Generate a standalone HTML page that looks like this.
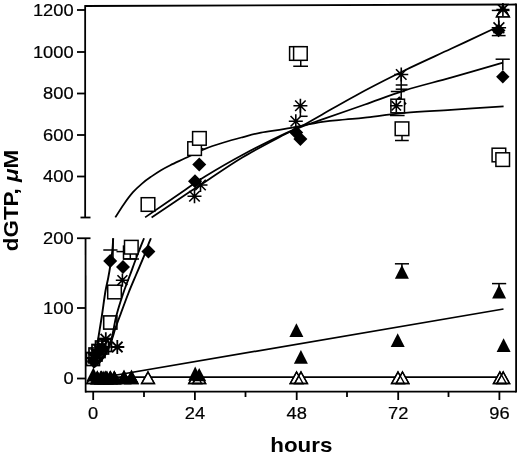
<!DOCTYPE html>
<html><head><meta charset="utf-8"><title>dGTP</title>
<style>
html,body{margin:0;padding:0;background:#fff;}
svg{display:block;}
.t{font-family:"Liberation Sans",Arial,Helvetica,sans-serif;font-size:16.8px;fill:#000;stroke:#000;stroke-width:0.2px;}
.b{font-family:"Liberation Sans",Arial,Helvetica,sans-serif;font-size:20px;font-weight:bold;fill:#000;}
</style></head>
<body>
<svg width="520" height="456" viewBox="0 0 520 456">
<rect width="520" height="456" fill="#fff"/>
<line x1="85.15" y1="5.10" x2="85.15" y2="217.50" stroke="#000" stroke-width="1.8"/>
<line x1="80.50" y1="217.50" x2="90.50" y2="217.50" stroke="#000" stroke-width="1.8"/>
<line x1="85.55" y1="238.25" x2="85.65" y2="392.50" stroke="#000" stroke-width="1.8"/>
<line x1="77.00" y1="238.25" x2="90.50" y2="238.25" stroke="#000" stroke-width="1.8"/>
<line x1="85.15" y1="6.00" x2="516.10" y2="4.50" stroke="#000" stroke-width="1.8"/>
<line x1="516.10" y1="3.60" x2="516.10" y2="392.50" stroke="#000" stroke-width="1.8"/>
<line x1="85.15" y1="391.60" x2="516.10" y2="391.60" stroke="#000" stroke-width="1.8"/>
<line x1="77.00" y1="10.00" x2="85.15" y2="10.00" stroke="#000" stroke-width="1.8"/>
<text transform="translate(73.6,15.90) scale(1.09,1)" text-anchor="end" class="t">1200</text>
<line x1="77.00" y1="52.00" x2="85.15" y2="52.00" stroke="#000" stroke-width="1.8"/>
<text transform="translate(73.6,57.90) scale(1.09,1)" text-anchor="end" class="t">1000</text>
<line x1="77.00" y1="93.50" x2="85.15" y2="93.50" stroke="#000" stroke-width="1.8"/>
<text transform="translate(73.6,99.40) scale(1.09,1)" text-anchor="end" class="t">800</text>
<line x1="77.00" y1="135.00" x2="85.15" y2="135.00" stroke="#000" stroke-width="1.8"/>
<text transform="translate(73.6,140.90) scale(1.09,1)" text-anchor="end" class="t">600</text>
<line x1="77.00" y1="176.50" x2="85.15" y2="176.50" stroke="#000" stroke-width="1.8"/>
<text transform="translate(73.6,182.40) scale(1.09,1)" text-anchor="end" class="t">400</text>
<text transform="translate(73.6,244.15) scale(1.09,1)" text-anchor="end" class="t">200</text>
<line x1="77.00" y1="308.00" x2="85.15" y2="308.00" stroke="#000" stroke-width="1.8"/>
<text transform="translate(73.6,313.90) scale(1.09,1)" text-anchor="end" class="t">100</text>
<line x1="77.00" y1="378.50" x2="85.15" y2="378.50" stroke="#000" stroke-width="1.8"/>
<text transform="translate(73.6,384.40) scale(1.09,1)" text-anchor="end" class="t">0</text>
<line x1="93.20" y1="391.60" x2="93.20" y2="400.00" stroke="#000" stroke-width="1.8"/>
<text transform="translate(93.20,418.8) scale(1.09,1)" text-anchor="middle" class="t">0</text>
<line x1="194.90" y1="391.60" x2="194.90" y2="400.00" stroke="#000" stroke-width="1.8"/>
<text transform="translate(194.90,418.8) scale(1.09,1)" text-anchor="middle" class="t">24</text>
<line x1="296.70" y1="391.60" x2="296.70" y2="400.00" stroke="#000" stroke-width="1.8"/>
<text transform="translate(296.70,418.8) scale(1.09,1)" text-anchor="middle" class="t">48</text>
<line x1="398.20" y1="391.60" x2="398.20" y2="400.00" stroke="#000" stroke-width="1.8"/>
<text transform="translate(398.20,418.8) scale(1.09,1)" text-anchor="middle" class="t">72</text>
<line x1="499.40" y1="391.60" x2="499.40" y2="400.00" stroke="#000" stroke-width="1.8"/>
<text transform="translate(499.40,418.8) scale(1.09,1)" text-anchor="middle" class="t">96</text>
<line x1="144.00" y1="391.60" x2="144.00" y2="397.00" stroke="#000" stroke-width="1.8"/>
<line x1="245.50" y1="391.60" x2="245.50" y2="397.00" stroke="#000" stroke-width="1.8"/>
<line x1="347.00" y1="391.60" x2="347.00" y2="397.00" stroke="#000" stroke-width="1.8"/>
<line x1="448.50" y1="391.60" x2="448.50" y2="397.00" stroke="#000" stroke-width="1.8"/>
<text transform="translate(301.3,451.7) scale(1.12,1)" text-anchor="middle" class="b">hours</text>
<text transform="translate(18.4,200.5) rotate(-90) scale(1.12,1)" text-anchor="middle" class="b">dGTP, <tspan font-style="italic">μ</tspan>M</text>
<path d="M115.30,217.40 C116.70,215.23 120.75,208.60 123.70,204.40 C126.65,200.20 129.90,195.72 133.00,192.20 C136.10,188.68 139.20,185.93 142.30,183.30 C145.40,180.67 148.48,178.58 151.60,176.40 C154.72,174.22 157.88,172.07 161.00,170.20 C164.12,168.33 166.30,167.18 170.30,165.20 C174.30,163.22 179.22,161.02 185.00,158.30 C190.78,155.58 198.55,151.53 205.00,148.90 C211.45,146.27 217.48,144.43 223.70,142.50 C229.92,140.57 236.08,138.95 242.30,137.30 C248.52,135.65 253.88,134.00 261.00,132.60 C268.12,131.20 274.78,130.68 285.00,128.90 C295.22,127.12 312.30,123.47 322.30,121.90 C332.30,120.33 337.88,120.22 345.00,119.50 C352.12,118.78 355.00,118.70 365.00,117.60 C375.00,116.50 390.67,114.18 405.00,112.90 C419.33,111.62 434.57,110.98 451.00,109.90 C467.43,108.82 494.83,106.98 503.60,106.40" stroke="#000" stroke-width="1.75" fill="none"/>
<path d="M145.10,217.40 C151.75,212.83 175.02,196.82 185.00,190.00 C194.98,183.18 195.45,182.33 205.00,176.50 C214.55,170.67 228.97,162.15 242.30,155.00 C255.63,147.85 274.77,138.43 285.00,133.60 C295.23,128.77 297.48,128.37 303.70,126.00 C309.92,123.63 312.08,122.98 322.30,119.40 C332.52,115.82 351.22,109.35 365.00,104.50 C378.78,99.65 390.67,94.78 405.00,90.30 C419.33,85.82 434.67,82.22 451.00,77.60 C467.33,72.98 494.33,65.10 503.00,62.60" stroke="#000" stroke-width="1.75" fill="none"/>
<path d="M151.60,217.40 C157.17,213.67 176.10,200.90 185.00,195.00 C193.90,189.10 195.45,188.25 205.00,182.00 C214.55,175.75 228.97,165.45 242.30,157.50 C255.63,149.55 274.77,139.72 285.00,134.30 C295.23,128.88 297.48,128.32 303.70,125.00 C309.92,121.68 312.08,120.15 322.30,114.40 C332.52,108.65 351.22,97.87 365.00,90.50 C378.78,83.13 390.67,77.15 405.00,70.20 C419.33,63.25 436.22,55.70 451.00,48.80 C465.78,41.90 485.70,32.52 493.70,28.80 C501.70,25.08 498.12,26.88 499.00,26.50" stroke="#000" stroke-width="1.75" fill="none"/>
<path d="M113.20,238.25 C113.07,240.21 112.85,245.66 112.40,250.00 C111.95,254.34 111.20,259.63 110.50,264.30 C109.80,268.97 109.07,273.38 108.20,278.00 C107.33,282.62 106.33,285.83 105.30,292.00 C104.27,298.17 103.08,307.83 102.00,315.00 C100.92,322.17 99.88,328.33 98.80,335.00 C97.72,341.67 96.43,349.83 95.50,355.00 C94.57,360.17 93.58,364.17 93.20,366.00" stroke="#000" stroke-width="1.9" fill="none"/>
<path d="M144.00,238.25 C142.83,241.21 139.33,249.88 137.00,256.00 C134.67,262.12 132.33,268.67 130.00,275.00 C127.67,281.33 125.28,287.17 123.00,294.00 C120.72,300.83 118.07,309.17 116.30,316.00 C114.53,322.83 113.78,329.33 112.40,335.00 C111.02,340.67 110.07,345.50 108.00,350.00 C105.93,354.50 102.47,359.00 100.00,362.00 C97.53,365.00 94.33,367.00 93.20,368.00" stroke="#000" stroke-width="1.9" fill="none"/>
<path d="M150.90,238.25 C150.45,239.34 149.35,241.81 148.20,244.80 C147.05,247.79 146.03,251.17 144.00,256.20 C141.97,261.23 138.58,268.87 136.00,275.00 C133.42,281.13 131.00,286.67 128.50,293.00 C126.00,299.33 123.18,307.12 121.00,313.00 C118.82,318.88 117.15,323.30 115.40,328.30 C113.65,333.30 112.73,338.05 110.50,343.00 C108.27,347.95 104.88,354.17 102.00,358.00 C99.12,361.83 94.67,364.67 93.20,366.00" stroke="#000" stroke-width="1.9" fill="none"/>
<line x1="93.25" y1="379.00" x2="503.50" y2="309.00" stroke="#000" stroke-width="1.75"/>
<line x1="93.25" y1="377.20" x2="503.50" y2="377.20" stroke="#000" stroke-width="1.75"/>
<polygon points="93.20,372.00 99.60,383.50 86.80,383.50" fill="#fff" stroke="#000" stroke-width="1.4"/>
<polygon points="97.40,372.00 103.80,383.50 91.00,383.50" fill="#fff" stroke="#000" stroke-width="1.4"/>
<polygon points="101.70,372.00 108.10,383.50 95.30,383.50" fill="#fff" stroke="#000" stroke-width="1.4"/>
<polygon points="105.90,372.00 112.30,383.50 99.50,383.50" fill="#fff" stroke="#000" stroke-width="1.4"/>
<polygon points="110.20,372.00 116.60,383.50 103.80,383.50" fill="#fff" stroke="#000" stroke-width="1.4"/>
<polygon points="114.40,372.00 120.80,383.50 108.00,383.50" fill="#fff" stroke="#000" stroke-width="1.4"/>
<polygon points="124.00,372.00 130.40,383.50 117.60,383.50" fill="#fff" stroke="#000" stroke-width="1.4"/>
<polygon points="131.50,372.00 137.90,383.50 125.10,383.50" fill="#fff" stroke="#000" stroke-width="1.4"/>
<polygon points="93.20,372.00 99.60,383.50 86.80,383.50" fill="none" stroke="#000" stroke-width="1.4"/>
<polygon points="97.40,372.00 103.80,383.50 91.00,383.50" fill="none" stroke="#000" stroke-width="1.4"/>
<polygon points="101.70,372.00 108.10,383.50 95.30,383.50" fill="none" stroke="#000" stroke-width="1.4"/>
<polygon points="105.90,372.00 112.30,383.50 99.50,383.50" fill="none" stroke="#000" stroke-width="1.4"/>
<polygon points="110.20,372.00 116.60,383.50 103.80,383.50" fill="none" stroke="#000" stroke-width="1.4"/>
<polygon points="114.40,372.00 120.80,383.50 108.00,383.50" fill="none" stroke="#000" stroke-width="1.4"/>
<polygon points="124.00,372.00 130.40,383.50 117.60,383.50" fill="none" stroke="#000" stroke-width="1.4"/>
<polygon points="131.50,372.00 137.90,383.50 125.10,383.50" fill="none" stroke="#000" stroke-width="1.4"/>
<polygon points="148.00,372.00 154.40,383.50 141.60,383.50" fill="#fff" stroke="#000" stroke-width="1.4"/>
<polygon points="148.00,372.00 154.40,383.50 141.60,383.50" fill="none" stroke="#000" stroke-width="1.4"/>
<polygon points="195.20,372.00 201.60,383.50 188.80,383.50" fill="#fff" stroke="#000" stroke-width="1.4"/>
<polygon points="199.20,372.00 205.60,383.50 192.80,383.50" fill="#fff" stroke="#000" stroke-width="1.4"/>
<polygon points="195.20,372.00 201.60,383.50 188.80,383.50" fill="none" stroke="#000" stroke-width="1.4"/>
<polygon points="199.20,372.00 205.60,383.50 192.80,383.50" fill="none" stroke="#000" stroke-width="1.4"/>
<polygon points="296.60,372.00 303.00,383.50 290.20,383.50" fill="#fff" stroke="#000" stroke-width="1.4"/>
<polygon points="301.00,372.00 307.40,383.50 294.60,383.50" fill="#fff" stroke="#000" stroke-width="1.4"/>
<polygon points="296.60,372.00 303.00,383.50 290.20,383.50" fill="none" stroke="#000" stroke-width="1.4"/>
<polygon points="301.00,372.00 307.40,383.50 294.60,383.50" fill="none" stroke="#000" stroke-width="1.4"/>
<polygon points="398.00,372.00 404.40,383.50 391.60,383.50" fill="#fff" stroke="#000" stroke-width="1.4"/>
<polygon points="402.50,372.00 408.90,383.50 396.10,383.50" fill="#fff" stroke="#000" stroke-width="1.4"/>
<polygon points="398.00,372.00 404.40,383.50 391.60,383.50" fill="none" stroke="#000" stroke-width="1.4"/>
<polygon points="402.50,372.00 408.90,383.50 396.10,383.50" fill="none" stroke="#000" stroke-width="1.4"/>
<polygon points="499.90,372.00 506.30,383.50 493.50,383.50" fill="#fff" stroke="#000" stroke-width="1.4"/>
<polygon points="503.20,372.00 509.60,383.50 496.80,383.50" fill="#fff" stroke="#000" stroke-width="1.4"/>
<polygon points="499.90,372.00 506.30,383.50 493.50,383.50" fill="none" stroke="#000" stroke-width="1.4"/>
<polygon points="503.20,372.00 509.60,383.50 496.80,383.50" fill="none" stroke="#000" stroke-width="1.4"/>
<polygon points="93.30,367.60 100.30,381.40 86.30,381.40" fill="#000"/>
<polygon points="97.30,370.60 104.30,384.40 90.30,384.40" fill="#000"/>
<polygon points="100.60,370.60 107.60,384.40 93.60,384.40" fill="#000"/>
<polygon points="103.90,370.60 110.90,384.40 96.90,384.40" fill="#000"/>
<polygon points="107.00,370.60 114.00,384.40 100.00,384.40" fill="#000"/>
<polygon points="110.60,370.60 117.60,384.40 103.60,384.40" fill="#000"/>
<polygon points="114.20,370.60 121.20,384.40 107.20,384.40" fill="#000"/>
<polygon points="124.00,369.50 131.00,383.30 117.00,383.30" fill="#000"/>
<polygon points="131.50,369.50 138.50,383.30 124.50,383.30" fill="#000"/>
<polygon points="195.20,366.40 202.20,380.80 188.20,380.80" fill="#000"/>
<polygon points="199.20,368.00 206.20,381.20 192.20,381.20" fill="#000"/>
<polygon points="296.40,323.20 303.40,337.00 289.40,337.00" fill="#000"/>
<polygon points="300.90,350.00 307.90,363.80 293.90,363.80" fill="#000"/>
<line x1="401.90" y1="263.80" x2="401.90" y2="267.00" stroke="#000" stroke-width="1.5"/>
<line x1="394.90" y1="263.80" x2="409.00" y2="263.80" stroke="#000" stroke-width="1.5"/>
<polygon points="401.90,264.90 408.90,278.70 394.90,278.70" fill="#000"/>
<polygon points="397.70,333.30 404.70,347.10 390.70,347.10" fill="#000"/>
<line x1="499.00" y1="283.60" x2="499.00" y2="287.00" stroke="#000" stroke-width="1.5"/>
<line x1="492.00" y1="283.60" x2="506.20" y2="283.60" stroke="#000" stroke-width="1.5"/>
<polygon points="499.10,284.70 506.10,298.50 492.10,298.50" fill="#000"/>
<polygon points="503.60,338.20 510.60,352.00 496.60,352.00" fill="#000"/>
<rect x="86.50" y="352.50" width="13" height="13" fill="none" stroke="#000" stroke-width="1.7"/>
<polygon points="93.30,354.00 99.30,360.00 93.30,366.00 87.30,360.00" fill="#000"/>
<path d="M86.20,358.00H100.20M93.20,351.00V365.00M87.95,352.75L98.45,363.25M87.95,363.25L98.45,352.75" stroke="#000" stroke-width="1.8" fill="none"/>
<rect x="89.00" y="348.00" width="13" height="13" fill="none" stroke="#000" stroke-width="1.7"/>
<polygon points="96.00,349.50 102.00,355.50 96.00,361.50 90.00,355.50" fill="#000"/>
<path d="M89.00,354.00H103.00M96.00,347.00V361.00M90.75,348.75L101.25,359.25M90.75,359.25L101.25,348.75" stroke="#000" stroke-width="1.8" fill="none"/>
<rect x="92.00" y="344.50" width="13" height="13" fill="none" stroke="#000" stroke-width="1.7"/>
<polygon points="99.00,345.50 105.00,351.50 99.00,357.50 93.00,351.50" fill="#000"/>
<path d="M92.00,350.00H106.00M99.00,343.00V357.00M93.75,344.75L104.25,355.25M93.75,355.25L104.25,344.75" stroke="#000" stroke-width="1.8" fill="none"/>
<rect x="95.50" y="341.00" width="13" height="13" fill="none" stroke="#000" stroke-width="1.7"/>
<polygon points="102.50,342.00 108.50,348.00 102.50,354.00 96.50,348.00" fill="#000"/>
<path d="M95.00,347.00H109.00M102.00,340.00V354.00M96.75,341.75L107.25,352.25M96.75,352.25L107.25,341.75" stroke="#000" stroke-width="1.8" fill="none"/>
<rect x="98.50" y="338.50" width="13" height="13" fill="none" stroke="#000" stroke-width="1.7"/>
<path d="M98.80,339.20H112.80M105.80,332.20V346.20M100.55,333.95L111.05,344.45M100.55,344.45L111.05,333.95" stroke="#000" stroke-width="1.8" fill="none"/>
<path d="M110.30,347.00H124.30M117.30,340.00V354.00M112.05,341.75L122.55,352.25M112.05,352.25L122.55,341.75" stroke="#000" stroke-width="1.8" fill="none"/>
<polygon points="93.40,354.60 100.00,361.20 93.40,367.80 86.80,361.20" fill="#000"/>
<rect x="103.70" y="315.90" width="13.2" height="13.2" fill="none" stroke="#000" stroke-width="1.6"/>
<rect x="107.70" y="285.20" width="13.6" height="13.6" fill="#fff" stroke="#000" stroke-width="1.5"/>
<path d="M115.80,280.20H129.00M122.40,273.60V286.80M117.45,275.25L127.35,285.15M117.45,285.15L127.35,275.25" stroke="#000" stroke-width="1.6" fill="none"/>
<polygon points="110.20,254.00 117.20,261.00 110.20,268.00 103.20,261.00" fill="#000"/>
<line x1="103.30" y1="250.00" x2="117.50" y2="250.00" stroke="#000" stroke-width="1.5"/>
<line x1="113.00" y1="238.25" x2="113.00" y2="258.00" stroke="#000" stroke-width="1.5"/>
<line x1="116.50" y1="251.60" x2="130.00" y2="251.60" stroke="#000" stroke-width="1.5"/>
<polygon points="123.00,260.00 130.00,267.00 123.00,274.00 116.00,267.00" fill="#000"/>
<rect x="123.50" y="246.10" width="12.8" height="12.8" fill="#fff" stroke="#000" stroke-width="1.5"/>
<line x1="123.00" y1="259.00" x2="139.00" y2="259.00" stroke="#000" stroke-width="1.5"/>
<rect x="124.50" y="240.40" width="13.6" height="13.6" fill="#fff" stroke="#000" stroke-width="1.5"/>
<line x1="130.30" y1="254.00" x2="130.30" y2="259.00" stroke="#000" stroke-width="1.5"/>
<polygon points="148.40,244.60 155.40,251.60 148.40,258.60 141.40,251.60" fill="#000"/>
<rect x="141.20" y="197.70" width="13.6" height="13.6" fill="#fff" stroke="#000" stroke-width="1.5"/>
<path d="M187.50,196.30H201.50M194.50,189.30V203.30M189.25,191.05L199.75,201.55M189.25,201.55L199.75,191.05" stroke="#000" stroke-width="1.6" fill="none"/>
<path d="M193.50,185.00H207.50M200.50,178.00V192.00M195.25,179.75L205.75,190.25M195.25,190.25L205.75,179.75" stroke="#000" stroke-width="1.6" fill="none"/>
<polygon points="195.00,174.25 202.00,181.25 195.00,188.25 188.00,181.25" fill="#000"/>
<polygon points="199.25,157.50 206.25,164.50 199.25,171.50 192.25,164.50" fill="#000"/>
<line x1="199.00" y1="148.75" x2="203.50" y2="148.75" stroke="#000" stroke-width="1.5"/>
<rect x="187.80" y="141.80" width="13.6" height="13.6" fill="#fff" stroke="#000" stroke-width="1.5"/>
<rect x="192.60" y="131.60" width="13.6" height="13.6" fill="#fff" stroke="#000" stroke-width="1.5"/>
<line x1="300.75" y1="60.00" x2="300.75" y2="66.25" stroke="#000" stroke-width="1.5"/>
<line x1="293.25" y1="66.25" x2="308.00" y2="66.25" stroke="#000" stroke-width="1.5"/>
<rect x="289.60" y="46.70" width="13.6" height="13.6" fill="#fff" stroke="#000" stroke-width="1.5"/>
<rect x="293.60" y="46.70" width="13.6" height="13.6" fill="#fff" stroke="#000" stroke-width="1.5"/>
<path d="M293.40,105.80H307.40M300.40,98.80V112.80M295.15,100.55L305.65,111.05M295.15,111.05L305.65,100.55" stroke="#000" stroke-width="1.6" fill="none"/>
<line x1="300.40" y1="105.80" x2="300.40" y2="116.30" stroke="#000" stroke-width="1.5"/>
<line x1="299.70" y1="116.30" x2="307.60" y2="116.30" stroke="#000" stroke-width="1.5"/>
<path d="M288.80,121.30H302.80M295.80,114.30V128.30M290.55,116.05L301.05,126.55M290.55,126.55L301.05,116.05" stroke="#000" stroke-width="1.6" fill="none"/>
<polygon points="296.20,125.50 303.20,132.50 296.20,139.50 289.20,132.50" fill="#000"/>
<polygon points="300.40,132.00 307.40,139.00 300.40,146.00 293.40,139.00" fill="#000"/>
<polygon points="399.30,96.20 406.70,103.60 399.30,111.00 391.90,103.60" fill="#000"/>
<line x1="401.20" y1="74.00" x2="401.20" y2="99.00" stroke="#000" stroke-width="1.5"/>
<line x1="395.70" y1="85.00" x2="407.50" y2="85.00" stroke="#000" stroke-width="1.5"/>
<line x1="395.70" y1="89.20" x2="407.50" y2="89.20" stroke="#000" stroke-width="1.5"/>
<line x1="390.80" y1="91.50" x2="404.60" y2="91.50" stroke="#000" stroke-width="1.5"/>
<rect x="390.90" y="99.20" width="13.6" height="13.6" fill="#fff" stroke="#000" stroke-width="1.5"/>
<path d="M390.00,105.80H402.60M396.30,99.50V112.10M391.57,101.08L401.03,110.52M391.57,110.52L401.03,101.08" stroke="#000" stroke-width="1.6" fill="none"/>
<line x1="390.00" y1="115.50" x2="404.60" y2="115.50" stroke="#000" stroke-width="1.5"/>
<path d="M394.25,74.50H408.25M401.25,67.50V81.50M396.00,69.25L406.50,79.75M396.00,79.75L406.50,69.25" stroke="#000" stroke-width="1.6" fill="none"/>
<line x1="402.00" y1="135.00" x2="402.00" y2="140.50" stroke="#000" stroke-width="1.5"/>
<line x1="395.00" y1="140.50" x2="408.75" y2="140.50" stroke="#000" stroke-width="1.5"/>
<rect x="395.20" y="121.95" width="13.6" height="13.6" fill="#fff" stroke="#000" stroke-width="1.5"/>
<polygon points="502.90,5.40 509.30,16.90 496.50,16.90" fill="#fff" stroke="#000" stroke-width="1.4"/>
<polygon points="502.90,5.40 509.30,16.90 496.50,16.90" fill="none" stroke="#000" stroke-width="1.4"/>
<line x1="491.80" y1="10.40" x2="509.50" y2="10.40" stroke="#000" stroke-width="1.5"/>
<path d="M496.40,9.50H509.40M502.90,3.00V16.00M498.02,4.62L507.77,14.38M498.02,14.38L507.77,4.62" stroke="#000" stroke-width="1.6" fill="none"/>
<line x1="498.70" y1="17.00" x2="498.70" y2="30.00" stroke="#000" stroke-width="1.5"/>
<polygon points="498.60,23.50 505.50,30.40 498.60,37.30 491.70,30.40" fill="#000"/>
<path d="M491.70,27.80H506.10M498.90,20.60V35.00M493.50,22.40L504.30,33.20M493.50,33.20L504.30,22.40" stroke="#000" stroke-width="1.6" fill="none"/>
<line x1="491.80" y1="35.60" x2="505.60" y2="35.60" stroke="#000" stroke-width="1.5"/>
<line x1="502.80" y1="59.20" x2="502.80" y2="70.00" stroke="#000" stroke-width="1.5"/>
<line x1="495.60" y1="59.20" x2="509.80" y2="59.20" stroke="#000" stroke-width="1.5"/>
<polygon points="502.80,70.05 509.50,76.75 502.80,83.45 496.10,76.75" fill="#000"/>
<rect x="492.10" y="148.20" width="13.6" height="13.6" fill="#fff" stroke="#000" stroke-width="1.5"/>
<rect x="495.90" y="152.80" width="13.6" height="13.6" fill="#fff" stroke="#000" stroke-width="1.5"/>
</svg>
</body></html>
